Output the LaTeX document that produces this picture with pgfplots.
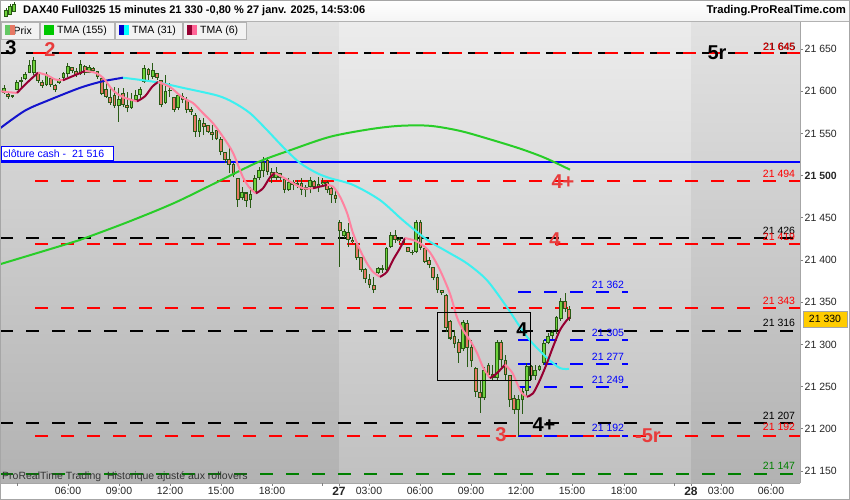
\documentclass[border=0pt]{standalone}
\usepackage{pgfplots}
\pgfplotsset{compat=1.18}
\usepackage{pgfplotstable}
\usepackage{fontspec}
\setmainfont{Liberation Sans}
\definecolor{cdark}{RGB}{40,90,20}
\definecolor{cup}{RGB}{110,210,60}
\definecolor{cdown}{RGB}{230,120,100}
\definecolor{t155}{RGB}{40,205,40}
\definecolor{t31a}{RGB}{20,20,205}
\definecolor{t31b}{RGB}{60,240,240}
\definecolor{t6a}{RGB}{255,130,160}
\definecolor{t6b}{RGB}{150,0,50}
\definecolor{lred}{RGB}{255,0,0}
\definecolor{lgreen}{RGB}{0,128,0}
\definecolor{lblue}{RGB}{0,0,255}
\definecolor{tred}{RGB}{232,60,60}
\definecolor{bgA}{RGB}{226,226,226}
\definecolor{bgAb}{RGB}{178,178,178}
\definecolor{bgB}{RGB}{236,236,236}
\definecolor{bgBb}{RGB}{192,192,192}
\definecolor{gold}{RGB}{255,204,0}
\definecolor{swg}{RGB}{100,200,100}
\definecolor{sw155}{RGB}{0,200,0}
\definecolor{sw31a}{RGB}{0,0,205}
\definecolor{sw31b}{RGB}{0,255,255}
\definecolor{sw6a}{RGB}{150,0,50}
\definecolor{sw6b}{RGB}{255,100,150}
\newcommand{\fs}[1]{\fontsize{#1bp}{#1bp}\selectfont}

\pgfplotstableread{
i o h l c
0 21598 21607 21597 21604
2 21593 21596 21592 21595
3 21602 21613 21601 21611
4 21611 21617 21605 21613
5 21614 21623 21613 21620
6 21622 21637 21621 21631
7 21622 21641 21619 21637
10 21607 21623 21606 21620
13 21610 21616 21609 21615
14 21616 21623 21615 21622
15 21620 21633 21617 21630
18 21620 21637 21619 21632
20 21622 21631 21621 21629
27 21583 21604 21564 21591
30 21580 21598 21579 21590
31 21589 21601 21587 21596
32 21595 21605 21592 21603
33 21611 21631 21610 21627
35 21617 21633 21615 21625
38 21586 21619 21585 21600
39 21600 21610 21593 21602
41 21580 21598 21578 21595
46 21552 21568 21546 21566
56 21473 21486 21471 21481
58 21471 21486 21462 21478
59 21480 21501 21479 21497
60 21497 21510 21495 21507
61 21505 21522 21498 21516
64 21497 21510 21495 21504
67 21483 21497 21482 21492
69 21489 21495 21485 21491
71 21483 21489 21475 21486
72 21486 21498 21479 21495
74 21487 21498 21481 21490
75 21490 21497 21487 21493
80 21428 21437 21426 21434
88 21385 21392 21384 21390
90 21388 21415 21387 21414
91 21415 21433 21414 21430
97 21410 21447 21408 21445
108 21294 21329 21292 21327
113 21236 21273 21234 21270
116 21260 21305 21258 21303
121 21222 21240 21192 21235
122 21234 21248 21218 21245
123 21245 21278 21238 21275
125 21262 21276 21258 21270
126 21270 21276 21268 21274
127 21278 21305 21276 21302
128 21302 21314 21300 21310
129 21310 21317 21306 21315
130 21317 21334 21312 21332
131 21330 21355 21328 21352
}\up

\pgfplotstableread{
i o h l c
1 21597 21598 21591 21593
8 21622 21623 21610 21612
9 21611 21613 21604 21606
11 21616 21617 21605 21607
12 21607 21609 21599 21601
16 21629 21629 21622 21624
17 21624 21627 21617 21619
19 21630 21631 21619 21622
21 21628 21629 21622 21624
22 21624 21624 21615 21617
23 21616 21616 21595 21597
24 21603 21610 21592 21593
25 21593 21604 21584 21586
26 21596 21605 21580 21582
28 21598 21604 21581 21584
29 21584 21599 21575 21580
34 21626 21628 21613 21619
36 21622 21622 21613 21616
37 21613 21613 21581 21584
40 21593 21593 21575 21578
42 21594 21598 21586 21590
43 21590 21593 21574 21578
44 21579 21581 21572 21575
45 21572 21574 21546 21552
47 21562 21568 21548 21558
48 21560 21560 21551 21552
49 21552 21560 21542 21548
50 21554 21554 21542 21543
51 21543 21546 21524 21528
52 21528 21528 21515 21518
53 21520 21534 21503 21513
54 21514 21515 21498 21501
55 21497 21497 21463 21471
57 21480 21481 21463 21470
62 21518 21522 21501 21504
63 21504 21509 21491 21497
65 21503 21503 21495 21497
66 21496 21497 21479 21483
68 21492 21495 21483 21489
70 21491 21497 21477 21483
73 21494 21495 21485 21487
76 21492 21494 21479 21483
77 21485 21486 21468 21477
78 21477 21483 21468 21472
79 21445 21447 21392 21434
81 21433 21444 21416 21424
82 21424 21427 21420 21421
83 21420 21421 21400 21402
84 21403 21404 21386 21388
85 21389 21391 21373 21377
86 21378 21384 21367 21370
87 21370 21380 21361 21364
89 21390 21394 21385 21388
92 21430 21436 21420 21424
93 21425 21427 21420 21422
94 21422 21424 21418 21420
95 21415 21415 21409 21410
96 21410 21412 21406 21408
98 21445 21447 21412 21414
99 21414 21415 21396 21398
100 21400 21404 21390 21394
101 21392 21392 21376 21379
102 21380 21384 21361 21364
103 21364 21365 21359 21361
104 21358 21360 21315 21320
105 21328 21329 21305 21307
106 21310 21317 21296 21300
107 21303 21306 21278 21290
109 21325 21329 21273 21296
110 21297 21305 21273 21280
111 21272 21273 21238 21244
112 21244 21258 21219 21236
114 21276 21278 21261 21264
115 21265 21276 21258 21260
117 21303 21305 21273 21281
118 21281 21287 21258 21264
119 21264 21264 21226 21234
120 21236 21240 21218 21222
124 21274 21276 21258 21262
132 21352 21361 21339 21342
133 21342 21345 21328 21330
}\down

\begin{document}
\begin{tikzpicture}
\begin{scope}[x=1bp,y=1bp]
\fill[white] (0,0) rectangle (850,500);
% day bands
\shade[top color=bgA, bottom color=bgAb] (0,17) rectangle (339,479);
\shade[top color=bgB, bottom color=bgBb] (339,17) rectangle (691,479);
\shade[top color=bgA, bottom color=bgAb] (691,17) rectangle (800,479);
\end{scope}

\begin{axis}[
  at={(0bp,17bp)}, anchor=south west,
  scale only axis, width=800bp, height=462bp,
  xmin=0, xmax=800, ymin=21135.8, ymax=21683.2,
  scaled x ticks=false, scaled y ticks=false,
  axis x line*=bottom, axis y line*=right,
  axis line style={-, draw=black!35, line width=0.8bp},
  tick style={draw=black!50, line width=0.8bp},
  major tick length=3bp,
  tick align=outside,
  xtick={68,119,170,221,272,339,369,420,471,521,572,624,691,721,771},
  xticklabels={06:00,09:00,12:00,15:00,18:00,{\fs{12}\bfseries 27},03:00,06:00,09:00,12:00,15:00,18:00,{\fs{12}\bfseries 28},03:00,06:00},
  extra x ticks={17,322,674}, extra x tick labels={},
  ytick={21150,21200,21250,21300,21350,21400,21450,21500,21550,21600,21650},
  yticklabels={21 150,21 200,21 250,21 300,21 350,21 400,21 450,\textbf{21 500},21 550,21 600,21 650},
  xticklabel style={font=\fs{10.5}, text=black!85, inner sep=1bp},
  yticklabel style={font=\fs{10.5}, anchor=west, text=black!85, inner sep=1.5bp},
]
% horizontal levels
\addplot[black, line width=2bp, dash pattern=on 13bp off 13bp] coordinates {(0,21645) (800,21645)};
\addplot[lred, line width=2bp, dash pattern=on 13bp off 13bp] coordinates {(33,21645) (800,21645)};
\addplot[lred, line width=2bp, dash pattern=on 13bp off 13bp] coordinates {(35,21494) (800,21494)};
\addplot[black, line width=2bp, dash pattern=on 13bp off 13bp] coordinates {(0,21426) (800,21426)};
\addplot[lred, line width=2bp, dash pattern=on 13bp off 13bp] coordinates {(35,21419) (800,21419)};
\addplot[lred, line width=2bp, dash pattern=on 13bp off 13bp] coordinates {(35,21343) (800,21343)};
\addplot[black, line width=2bp, dash pattern=on 13bp off 13bp] coordinates {(0,21316) (800,21316)};
\addplot[black, line width=2bp, dash pattern=on 13bp off 13bp] coordinates {(0,21207) (800,21207)};
\addplot[lred, line width=2bp, dash pattern=on 13bp off 13bp] coordinates {(35,21192) (800,21192)};
\addplot[lgreen, line width=2bp, dash pattern=on 13bp off 13bp] coordinates {(0,21147) (800,21147)};
\addplot[lblue, line width=2bp] coordinates {(0,21516) (800,21516)};
% blue short levels
\addplot[lblue, line width=2bp, dash pattern=on 13bp off 13bp] coordinates {(518,21362) (628,21362)};
\addplot[lblue, line width=2bp, dash pattern=on 13bp off 13bp] coordinates {(518,21305) (628,21305)};
\addplot[lblue, line width=2bp, dash pattern=on 13bp off 13bp] coordinates {(518,21277) (628,21277)};
\addplot[lblue, line width=2bp, dash pattern=on 13bp off 13bp] coordinates {(518,21249) (628,21249)};
\addplot[lblue, line width=2bp, dash pattern=on 13bp off 13bp] coordinates {(518,21192) (628,21192)};

% candles: wicks
\addplot[draw=none, error bars/.cd, y dir=plus, y explicit, error mark=none,
  error bar style={line width=1bp, draw=cdark}]
  table[x expr=4+4.25*\thisrow{i}, y=l, y error plus expr=\thisrow{h}-\thisrow{l}] {\up};
\addplot[draw=none, error bars/.cd, y dir=plus, y explicit, error mark=none,
  error bar style={line width=1bp, draw=cdark}]
  table[x expr=4+4.25*\thisrow{i}, y=l, y error plus expr=\thisrow{h}-\thisrow{l}] {\down};
% bodies: border
\addplot[draw=none, error bars/.cd, y dir=plus, y explicit, error mark=none,
  error bar style={line width=3.6bp, draw=cdark}]
  table[x expr=4+4.25*\thisrow{i}, y=o, y error plus expr={max(\thisrow{c}-\thisrow{o},1.2)}] {\up};
\addplot[draw=none, error bars/.cd, y dir=plus, y explicit, error mark=none,
  error bar style={line width=3.6bp, draw=cdark}]
  table[x expr=4+4.25*\thisrow{i}, y=c, y error plus expr={max(\thisrow{o}-\thisrow{c},1.2)}] {\down};
% bodies: fill
\addplot[draw=none, error bars/.cd, y dir=plus, y explicit, error mark=none,
  error bar style={line width=1.6bp, draw=cup}]
  table[x expr=4+4.25*\thisrow{i}, y expr=\thisrow{o}+1.2, y error plus expr={max(\thisrow{c}-\thisrow{o}-2.4,0)}] {\up};
\addplot[draw=none, error bars/.cd, y dir=plus, y explicit, error mark=none,
  error bar style={line width=1.6bp, draw=cdown}]
  table[x expr=4+4.25*\thisrow{i}, y expr=\thisrow{c}+1.2, y error plus expr={max(\thisrow{o}-\thisrow{c}-2.4,0)}] {\down};

% TMA 155
\addplot[t155, line width=2bp, smooth] coordinates {(0,21395) (67,21419) (85,21426) (130,21446) (175,21468) (220,21494) (258,21516) (290,21530) (330,21546) (370,21555) (400,21559) (430,21559) (460,21553) (490,21543) (520,21532) (545,21521) (570,21507)};
% TMA 31
\addplot[t31a, line width=2bp, smooth] coordinates {(0,21556) (25,21577) (50,21590) (80,21604) (100,21611) (113,21614) (123,21616)};
\addplot[t31b, line width=2bp, smooth] coordinates {(123,21616) (143,21613) (160,21610) (183,21604) (217,21595) (233,21587) (250,21574) (267,21554) (283,21534) (300,21515) (317,21503) (330,21497) (353,21489) (380,21471) (403,21447) (427,21424) (447,21410) (467,21396) (487,21376) (507,21344) (527,21309) (547,21284) (560,21272) (569,21271)};
% TMA 6
\addplot[t6a, line width=2bp, smooth] coordinates {(0,21600) (7,21599) (17,21598)};
\addplot[t6b, line width=2bp, smooth] coordinates {(17,21598) (27,21610) (38,21622)};
\addplot[t6a, line width=2bp, smooth] coordinates {(38,21622) (47,21619) (55,21614) (63,21613)};
\addplot[t6b, line width=2bp, smooth] coordinates {(63,21613) (75,21619) (85,21624)};
\addplot[t6a, line width=2bp, smooth] coordinates {(85,21624) (95,21622) (103,21616) (113,21601) (123,21593) (137,21588)};
\addplot[t6b, line width=2bp, smooth] coordinates {(137,21588) (145,21594) (152,21605) (158,21611)};
\addplot[t6a, line width=2bp, smooth] coordinates {(158,21611) (170,21605) (183,21592) (193,21586) (203,21574) (213,21562) (223,21546) (233,21527) (243,21498) (250,21485) (256,21479)};
\addplot[t6b, line width=2bp, smooth] coordinates {(256,21479) (263,21485) (270,21498) (275,21503)};
\addplot[t6a, line width=2bp, smooth] coordinates {(275,21503) (283,21498) (293,21491) (303,21485) (313,21485)};
\addplot[t6b, line width=2bp, smooth] coordinates {(313,21485) (320,21487) (327,21489)};
\addplot[t6a, line width=2bp, smooth] coordinates {(327,21489) (333,21487) (340,21475) (347,21456) (353,21432) (360,21412) (367,21396) (373,21386) (380,21380)};
\addplot[t6b, line width=2bp, smooth] coordinates {(380,21380) (387,21386) (393,21400) (400,21414) (405,21426)};
\addplot[t6a, line width=2bp, smooth] coordinates {(405,21426) (412,21424) (420,21420) (430,21409) (440,21388) (450,21360) (457,21332) (463,21317) (470,21305) (477,21290) (483,21273) (490,21260)};
\addplot[t6b, line width=2bp, smooth] coordinates {(490,21260) (497,21266) (505,21276)};
\addplot[t6a, line width=2bp, smooth] coordinates {(505,21276) (512,21267) (517,21254) (522,21242) (527,21238)};
\addplot[t6b, line width=2bp, smooth] coordinates {(527,21238) (533,21242) (540,21258) (547,21278) (553,21297) (560,21317) (567,21329) (570,21332)};
\end{axis}

\begin{scope}[x=1bp,y=1bp]
% box
\draw[black, line width=1bp] (437,187) rectangle (530,119);
% cloture cash label
\draw[lblue, fill=white, line width=1bp] (1,353) rectangle (113,339);
\node[anchor=west, inner sep=0, font=\fs{10.5}, text=lblue] at (3,346) {clôture cash -\ \ 21 516};

% big labels
\node[font=\fs{20}\bfseries, inner sep=0] at (11,452) {3};
\node[font=\fs{20}\bfseries, inner sep=0, text=tred] at (50,450) {2};
\node[font=\fs{20}\bfseries, inner sep=0] at (717,447) {5r};
\node[font=\fs{20}\bfseries, inner sep=0, text=tred] at (563,318) {4+};
\node[font=\fs{20}\bfseries, inner sep=0, text=tred] at (555,260) {4};
\node[font=\fs{20}\bfseries, inner sep=0] at (522,170) {4};
\node[font=\fs{20}\bfseries, inner sep=0] at (544,75) {4+};
\node[font=\fs{20}\bfseries, inner sep=0, text=tred] at (501,65) {3};
\node[font=\fs{20}\bfseries, inner sep=0, text=tred] at (648,64) {-5r};

% right level labels
\node[font=\fs{10.5}, inner sep=0] at (779.5,453) {21 645};
\node[font=\fs{10.5}, inner sep=0, text=lred] at (779,453) {21 645};
\node[font=\fs{10.5}, inner sep=0, text=lred] at (779,326) {21 494};
\node[font=\fs{10.5}, inner sep=0] at (779,269) {21 426};
\node[font=\fs{10.5}, inner sep=0, text=lred] at (779,263) {21 419};
\node[font=\fs{10.5}, inner sep=0, text=lred] at (779,199) {21 343};
\node[font=\fs{10.5}, inner sep=0] at (779,177) {21 316};
\node[font=\fs{10.5}, inner sep=0] at (779,84) {21 207};
\node[font=\fs{10.5}, inner sep=0, text=lred] at (779,73) {21 192};
\node[font=\fs{10.5}, inner sep=0, text=lgreen] at (779,34) {21 147};
% blue labels
\node[font=\fs{10.5}, inner sep=0, text=lblue] at (608,215) {21 362};
\node[font=\fs{10.5}, inner sep=0, text=lblue] at (608,167) {21 305};
\node[font=\fs{10.5}, inner sep=0, text=lblue] at (608,143) {21 277};
\node[font=\fs{10.5}, inner sep=0, text=lblue] at (608,120) {21 249};
\node[font=\fs{10.5}, inner sep=0, text=lblue] at (608,72) {21 192};

% bottom text
\node[anchor=west, inner sep=0, font=\fs{10.5}, text=black!80] at (2,23) {ProRealTime Trading\ \ Historique ajusté aux rollovers};

% current price label
\draw[fill=gold, draw=black!35] (803,173) rectangle (847,189);
\node[font=\fs{10.5}, inner sep=0] at (825,181) {21 330};

% header
\shade[top color=white, bottom color=black!4] (0,479) rectangle (850,500);
\draw[black!30, line width=0.8bp] (0,479) -- (850,479);
\foreach \xx/\ya/\yb in {6/484/490, 10/486/494, 14/489/496}{
  \draw[cdark, line width=0.6bp] (\xx,\ya-1.5) -- (\xx,\yb+1.5);
  \draw[cdark, fill=cup, line width=0.5bp] (\xx-1.5,\ya) rectangle (\xx+1.5,\yb);
}
\node[anchor=west, inner sep=0, font=\fs{11}\bfseries] at (23,489.5) {DAX40 Full0325 15 minutes 21 330 -0,80 \% 27 janv. 2025, 14:53:06};
\node[anchor=east, inner sep=0, font=\fs{11.3}\bfseries] at (846,489.5) {Trading.ProRealTime.com};

% legend strip
\foreach \xa/\xb in {1/39, 40/114, 115/182, 183/246}{
  \draw[fill=black!5, draw=black!30, line width=0.6bp] (\xa,461) rectangle (\xb,478);
}
\node[anchor=west, inner sep=0, font=\fs{10.5}] at (13.5,469.5) {Prix};
\fill[swg] (5,464.5) rectangle (10,474.5);
\fill[cdown] (10,464.5) rectangle (15,474.5);
\fill[sw155] (44,464.5) rectangle (54,474.5);
\node[anchor=west, inner sep=0, font=\fs{10.5}] at (57,469.5) {TMA (155)};
\fill[sw31a] (119,464.5) rectangle (124,474.5);
\fill[sw31b] (124,464.5) rectangle (129,474.5);
\node[anchor=west, inner sep=0, font=\fs{10.5}] at (132,469.5) {TMA (31)};
\fill[sw6a] (187,464.5) rectangle (192,474.5);
\fill[sw6b] (192,464.5) rectangle (197,474.5);
\node[anchor=west, inner sep=0, font=\fs{10.5}] at (200,469.5) {TMA (6)};

% outer border
\draw[black!35, line width=0.8bp] (0.4,0.4) rectangle (849.6,499.6);
\end{scope}
\pgfresetboundingbox
\useasboundingbox (0,0) rectangle (850bp,500bp);
\end{tikzpicture}
\end{document}
